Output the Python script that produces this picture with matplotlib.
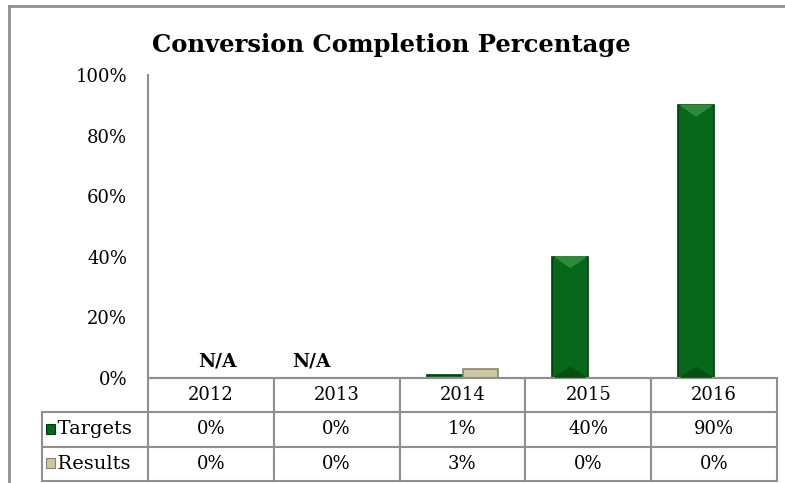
import numpy as np
import matplotlib.pyplot as plt
from matplotlib.patches import Rectangle
from matplotlib.lines import Line2D

# data
years = ["2012", "2013", "2014", "2015", "2016"]
targets = [0, 0, 1, 40, 90]
results = [0, 0, 3, 0, 0]
series_names = ["Targets", "Results"]
na_years = ["2012", "2013"]
title = "Conversion Completion Percentage"

green = "#07671a"
green_edge = "#023a0b"
tan = "#cdc6a0"
tan_edge = "#8a8566"
grid_gray = "#8f8f8f"

plt.rcParams['font.family'] = ['DejaVu Serif']

fig = plt.figure(figsize=(7.85, 4.83), dpi=100)
W, H = 785, 483

def px_axes(x0, y0, x1, y1):
    return [x0 / W, 1 - y1 / H, (x1 - x0) / W, (y1 - y0) / H]

ax = fig.add_axes(px_axes(148, 75, 777, 378))

x = np.arange(len(years))
bw = 0.285
ax.bar(x - bw / 2, targets, bw, color=green, edgecolor=green_edge, linewidth=1.2, label="Targets")
ax.bar(x + bw / 2, results, bw, color=tan, edgecolor=tan_edge, linewidth=1.2, label="Results")

# simple bevel highlight on the top of each target bar
for xi, v in zip(x, targets):
    if v > 5:
        left = xi - bw
        ax.fill([left + 0.02, left + bw - 0.02, xi - bw / 2], [v, v, v - 3.5],
                color="#2f8a3c", zorder=3)
        ax.fill([left + 0.02, left + bw - 0.02, xi - bw / 2], [0.3, 0.3, 3.5],
                color="#04500f", zorder=3)

# N/A labels
na_offsets = {"2012": 0.055, "2013": -0.2}
for yr in na_years:
    i = years.index(yr)
    ax.text(i + na_offsets[yr], 5.3, "N/A", ha="center", va="center",
            fontsize=13.5, fontweight="bold")

ax.set_xlim(-0.5, len(years) - 0.5)
ax.set_ylim(0, 100)
ax.set_yticks(np.arange(0, 101, 20))
ax.set_yticklabels([f"{v}%" for v in range(0, 101, 20)], fontsize=13)
ax.tick_params(axis="y", length=0, pad=15)
ax.set_xticks([])
for s in ["top", "right"]:
    ax.spines[s].set_visible(False)
ax.spines["left"].set_color(grid_gray)
ax.spines["bottom"].set_color(grid_gray)
ax.spines["left"].set_linewidth(1.5)
ax.spines["bottom"].set_linewidth(1.5)

fig.text(391 / W, 1 - 45 / H, title, ha="center", va="center",
         fontsize=17.5, fontweight="bold")

# data table (first column holds the series names)
cell_text = [[""] + years,
             ["  " + series_names[0]] + [f"{v}%" for v in targets],
             ["  " + series_names[1]] + [f"{v}%" for v in results]]
col_widths = [106 / 735] + [126 / 735] * len(years)
tbl = ax.table(cellText=cell_text, colWidths=col_widths, cellLoc="center",
               bbox=[-106 / 629, -103 / 303, 735 / 629, 103 / 303])
tbl.auto_set_font_size(False)
tbl.set_fontsize(13)
for (r, c), cell in tbl.get_celld().items():
    cell.set_edgecolor(grid_gray)
    cell.set_linewidth(1.5)
    cell.PAD = 0.03
    if c == 0:
        cell._loc = "left"
        cell.get_text().set_ha("left")
        cell.get_text().set_fontsize(14)
    if r == 0 and c == 0:
        cell.set_edgecolor("none")
        cell.set_facecolor("none")

# legend swatches in the row labels
for row, (col, ec) in enumerate([(green, green_edge), (tan, tan_edge)]):
    yc = 429 + row * 34
    fig.add_artist(Rectangle((46 / W, 1 - (yc + 5) / H), 9 / W, 10 / H,
                             facecolor=col, edgecolor=ec, linewidth=0.8))

# outer frame (left and top edges)
fig.add_artist(Line2D([8.5 / W, 8.5 / W], [0, 1 - 5.5 / H], color=grid_gray, lw=2))
fig.add_artist(Line2D([8.5 / W, 1], [1 - 5.5 / H, 1 - 5.5 / H], color=grid_gray, lw=2))

fig.savefig("out.png", dpi=100)
